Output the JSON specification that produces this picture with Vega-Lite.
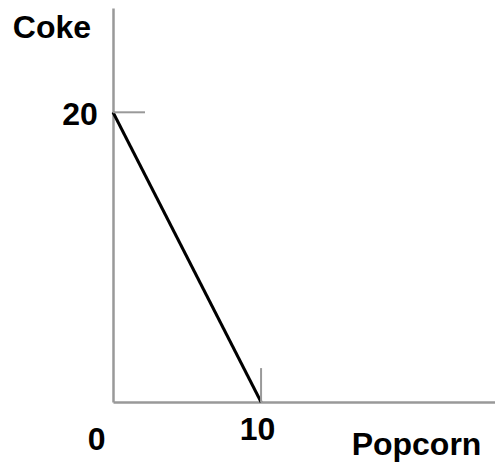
{
  "$schema": "https://vega.github.io/schema/vega-lite/v6.json",
  "width": 382,
  "height": 394,
  "autosize": {"type": "none"},
  "padding": {"left": 113, "top": 8, "right": 0, "bottom": 65},
  "background": "white",
  "config": {"view": {"stroke": null}},
  "datasets": {
    "budget": [{"popcorn": 0, "coke": 20}, {"popcorn": 10, "coke": 0}],
    "marks": [
      {"x": 0, "y": 20, "x2": 2.16, "y2": 20},
      {"x": 10, "y": 0, "x2": 10, "y2": 2.34}
    ],
    "labels": [
      {"text": "Coke", "x": -4.12, "y": 25.8},
      {"text": "20", "x": -2.23, "y": 19.8},
      {"text": "0", "x": -1.11, "y": -2.62},
      {"text": "10", "x": 9.76, "y": -1.93},
      {"text": "Popcorn", "x": 20.5, "y": -2.97}
    ]
  },
  "layer": [
    {
      "data": {"name": "budget"},
      "mark": {"type": "line", "color": "black", "strokeWidth": 3},
      "encoding": {
        "x": {"field": "popcorn", "type": "quantitative", "scale": {"domain": [0, 25.8], "nice": false},
              "axis": {"domain": true, "domainColor": "#999999", "domainWidth": 2.5, "ticks": false, "labels": false, "grid": false, "title": null}},
        "y": {"field": "coke", "type": "quantitative", "scale": {"domain": [0, 27.2], "nice": false},
              "axis": {"domain": true, "domainColor": "#999999", "domainWidth": 2.5, "ticks": false, "labels": false, "grid": false, "title": null}}
      }
    },
    {
      "data": {"name": "marks"},
      "mark": {"type": "rule", "color": "#999999", "strokeWidth": 2},
      "encoding": {
        "x": {"field": "x", "type": "quantitative"},
        "x2": {"field": "x2"},
        "y": {"field": "y", "type": "quantitative"},
        "y2": {"field": "y2"}
      }
    },
    {
      "data": {"name": "labels"},
      "mark": {"type": "text", "font": "Liberation Sans", "fontWeight": "bold", "fontSize": 32, "color": "black", "align": "center", "baseline": "middle"},
      "encoding": {
        "x": {"field": "x", "type": "quantitative"},
        "y": {"field": "y", "type": "quantitative"},
        "text": {"field": "text"}
      }
    }
  ]
}
